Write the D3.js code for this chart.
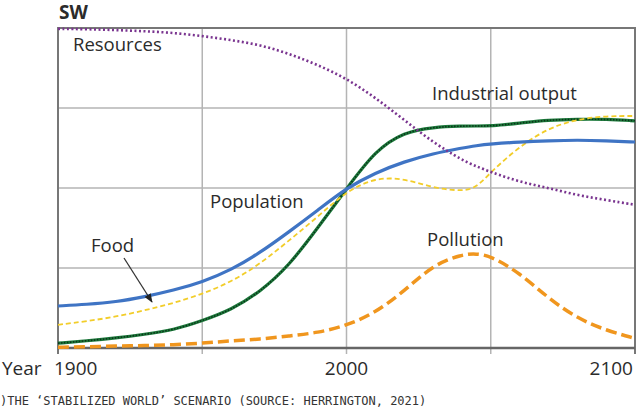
<!DOCTYPE html>
<html><head><meta charset="utf-8">
<script src="https://cdn.jsdelivr.net/npm/d3@7"></script>
<style>body{margin:0;background:#fff}svg{display:block}</style>
</head><body>
<svg id="c" width="640" height="410"></svg>
<script>
const years = [1900,1910,1920,1930,1940,1950,1960,1970,1980,1990,2000,2010,2020,2030,2040,2045,2050,2060,2070,2080,2090,2100];
const resources = [3.99,3.985,3.975,3.96,3.94,3.9,3.85,3.79,3.68,3.54,3.37,3.13,2.85,2.57,2.35,2.27,2.2,2.075,2.0,1.91,1.85,1.79];
const population = [0.525,0.545,0.575,0.64,0.72,0.825,0.975,1.19,1.45,1.72,2.0,2.19,2.33,2.43,2.5,2.53,2.55,2.575,2.59,2.6,2.59,2.575];
const industrial = [0.06,0.09,0.125,0.17,0.225,0.34,0.475,0.7,1.025,1.5,1.99,2.47,2.7,2.76,2.775,2.775,2.775,2.81,2.85,2.86,2.86,2.84];
const food = [0.29,0.335,0.39,0.47,0.56,0.675,0.825,1.05,1.34,1.64,1.96,2.13,2.12,2.0,1.96,2.0,2.2,2.52,2.75,2.86,2.9,2.9];
const pollution = [0.01,0.015,0.025,0.03,0.04,0.06,0.09,0.11,0.15,0.19,0.28,0.44,0.71,1.04,1.17,1.18,1.15,0.94,0.62,0.37,0.22,0.12];
const xTicks = [1900,2000,2100];
const gridYears = [1950,2000,2050];
const gridVals = [1,2,3];

const svg = d3.select("#c");
const x = d3.scaleLinear().domain([1900,2100]).range([58,635]);
const y = d3.scaleLinear().domain([0,4]).range([348,28]);
const font = "'Open Sans', 'Noto Sans', sans-serif";

// grid
svg.append("g").selectAll("line").data(gridVals).join("line")
  .attr("x1",x(1900)).attr("x2",x(2100)).attr("y1",d=>y(d)).attr("y2",d=>y(d))
  .attr("stroke","#b4b4b4").attr("stroke-width",1.5);
svg.append("g").selectAll("line").data(gridYears).join("line")
  .attr("x1",d=>x(d)).attr("x2",d=>x(d)).attr("y1",y(4)).attr("y2",y(0)+6)
  .attr("stroke","#b4b4b4").attr("stroke-width",1.5);

// frame
svg.append("rect").attr("x",x(1900)).attr("y",y(4)).attr("width",x(2100)-x(1900)).attr("height",y(0)-y(4))
  .attr("fill","none").attr("stroke","#777").attr("stroke-width",2);
svg.append("line").attr("x1",x(1900)).attr("x2",x(1900)).attr("y1",y(0)).attr("y2",y(0)+6).attr("stroke","#777").attr("stroke-width",2);
svg.append("line").attr("x1",x(2100)).attr("x2",x(2100)).attr("y1",y(0)).attr("y2",y(0)+6).attr("stroke","#777").attr("stroke-width",2);
svg.append("line").attr("x1",x(1900)).attr("x2",x(2100)).attr("y1",y(0)).attr("y2",y(0)).attr("stroke","#666").attr("stroke-width",2.5);

const line = vals => d3.line().x((d,i)=>x(years[i])).y(d=>y(d)).curve(d3.curveBasis)(vals);

// pollution
svg.append("path").attr("d",line(pollution)).attr("fill","none").attr("stroke","#f0961e")
  .attr("stroke-width",3.5).attr("stroke-dasharray","11,5");
// industrial
svg.append("path").attr("d",line(industrial)).attr("fill","none").attr("stroke","#1d7a3c").attr("stroke-width",3.2);
svg.append("path").attr("d",line(industrial)).attr("fill","none").attr("stroke","#0b3318").attr("stroke-width",1.6).attr("stroke-dasharray","1.5,1.5");
// food
svg.append("path").attr("d",line(food)).attr("fill","none").attr("stroke","#f2cd2a").attr("stroke-width",1.8).attr("stroke-dasharray","5,3");
// population
svg.append("path").attr("d",line(population)).attr("fill","none").attr("stroke","#3f74c4").attr("stroke-width",3.2);
// resources
svg.append("path").attr("d",line(resources)).attr("fill","none").attr("stroke","#7a3590").attr("stroke-width",2.6).attr("stroke-dasharray","2,2.5");

// labels
const lab = (t,px,py,anchor="start",size=17,weight=400) => svg.append("text").text(t).attr("x",px).attr("y",py)
  .attr("text-anchor",anchor).attr("font-family",font).attr("font-size",size).attr("font-weight",weight).attr("fill","#2b2b2b");
lab("SW",59,19,"start",19,700);
lab("Resources",73,51,"start",18.5);
lab("Industrial output",432,100,"start",18.5);
lab("Population",210,208,"start",18.5);
lab("Food",91,252,"start",18.5);
lab("Pollution",427,246,"start",18.5);

// arrow
svg.append("defs").append("marker").attr("id","ah").attr("viewBox","0 0 10 10").attr("refX",9).attr("refY",5)
  .attr("markerWidth",7).attr("markerHeight",7).attr("orient","auto")
  .append("path").attr("d","M0,1 L10,5 L0,9 Z").attr("fill","#222");
svg.append("line").attr("x1",124).attr("y1",258).attr("x2",152).attr("y2",302)
  .attr("stroke","#333").attr("stroke-width",1.3).attr("marker-end","url(#ah)");

// x axis labels
lab("Year",2,375,"start",19);
svg.selectAll(".xt").data(xTicks).join("text").attr("class","xt")
  .text(d=>d)
  .attr("x",d=> d===1900 ? x(d)-4 : d===2100 ? x(d)-2 : x(d))
  .attr("y",375)
  .attr("text-anchor",d=> d===1900 ? "start" : d===2100 ? "end" : "middle")
  .attr("font-family",font).attr("font-size",19).attr("fill","#2b2b2b");

// caption
svg.append("text").text(")THE \u2018STABILIZED WORLD\u2019 SCENARIO (SOURCE: HERRINGTON, 2021)")
  .attr("x",0).attr("y",405).attr("font-family","'DejaVu Sans Mono', monospace").attr("font-size",12).attr("fill","#333");
</script>
</body></html>
